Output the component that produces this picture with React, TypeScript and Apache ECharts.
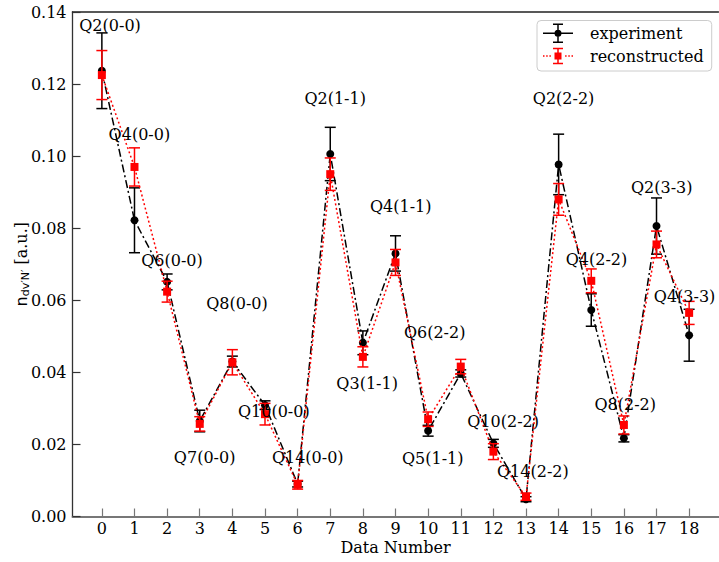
import React, { useEffect, useRef } from "react";
import * as echarts from "echarts";

const dataNumber = [0, 1, 2, 3, 4, 5, 6, 7, 8, 9, 10, 11, 12, 13, 14, 15, 16, 17, 18];
const experiment = [0.1237, 0.0822, 0.0651, 0.0265, 0.043, 0.0309, 0.009, 0.1006, 0.0482, 0.073, 0.0238, 0.0397, 0.0203, 0.0048, 0.0977, 0.0573, 0.0217, 0.0806, 0.0503];
const experimentErr = [0.0105, 0.009, 0.0022, 0.003, 0.0015, 0.0012, 0.0008, 0.0074, 0.0033, 0.0049, 0.0015, 0.001, 0.0011, 0.0007, 0.0084, 0.0045, 0.001, 0.0078, 0.0072];
const reconstructed = [0.1225, 0.097, 0.0624, 0.0257, 0.0428, 0.0284, 0.0088, 0.095, 0.0443, 0.0705, 0.027, 0.0416, 0.018, 0.0055, 0.088, 0.0654, 0.0254, 0.0755, 0.0565];
const reconstructedErr = [0.0068, 0.0053, 0.0029, 0.002, 0.0035, 0.003, 0.0012, 0.0045, 0.0028, 0.0036, 0.002, 0.002, 0.0022, 0.001, 0.0044, 0.0033, 0.0025, 0.0037, 0.0032];

const xTickValues = [0, 1, 2, 3, 4, 5, 6, 7, 8, 9, 10, 11, 12, 13, 14, 15, 16, 17, 18];

const annoLabels = ["Q2(0-0)", "Q4(0-0)", "Q6(0-0)", "Q8(0-0)", "Q10(0-0)", "Q7(0-0)", "Q14(0-0)", "Q2(1-1)", "Q4(1-1)", "Q3(1-1)", "Q6(2-2)", "Q5(1-1)", "Q10(2-2)", "Q14(2-2)", "Q2(2-2)", "Q4(2-2)", "Q2(3-3)", "Q4(3-3)", "Q8(2-2)"];
const annoX = [0.25, 1.15, 2.15, 4.14, 5.27, 3.15, 6.31, 7.15, 9.16, 8.13, 10.2, 10.14, 12.3, 13.21, 14.15, 15.16, 17.16, 17.86, 16.04];
const annoY = [0.1363, 0.106, 0.0711, 0.0592, 0.029, 0.0165, 0.0165, 0.116, 0.086, 0.0368, 0.051, 0.0162, 0.0263, 0.0124, 0.116, 0.0713, 0.0912, 0.061, 0.0312];

const SERIF = '"DejaVu Serif", "Liberation Serif", serif';
const SANS = '"DejaVu Sans", sans-serif';

const expIcon =
  "path://M0 9.25H30V10.75H0Z M14.25 1H15.75V19H14.25Z M10 0.25H20V1.75H10Z M10 18.25H20V19.75H10Z M18.5 10A3.5 3.5 0 1 1 11.5 10A3.5 3.5 0 1 1 18.5 10Z";
const recIcon =
  "path://M0 9.25H1.5V10.75H0Z M3.2 9.25H4.7V10.75H3.2Z M6.4 9.25H7.9V10.75H6.4Z M22.1 9.25H23.6V10.75H22.1Z M25.3 9.25H26.8V10.75H25.3Z M28.5 9.25H30V10.75H28.5Z M14.25 2.5H15.75V17.5H14.25Z M10 1.75H20V3.25H10Z M10 16.75H20V18.25H10Z M11.5 6.5H18.5V13.5H11.5Z M0 0H0.01V0.01H0Z M0 19.99H0.01V20H0Z";

function errorBars(name: string, ys: number[], errs: number[], color: string, z: number) {
  return {
    type: "custom",
    name,
    z,
    silent: true,
    data: dataNumber.map((x, i) => [x, ys[i] - errs[i], ys[i] + errs[i]]),
    encode: { x: 0, y: [1, 2] },
    renderItem: (_params: any, api: any) => {
      const lo = api.coord([api.value(0), api.value(1)]);
      const hi = api.coord([api.value(0), api.value(2)]);
      const hw = 5.5;
      const style = { stroke: color, lineWidth: 1.5, fill: "none" };
      return {
        type: "group",
        children: [
          { type: "line", shape: { x1: lo[0], y1: lo[1], x2: hi[0], y2: hi[1] }, style },
          { type: "line", shape: { x1: lo[0] - hw, y1: lo[1], x2: lo[0] + hw, y2: lo[1] }, style },
          { type: "line", shape: { x1: hi[0] - hw, y1: hi[1], x2: hi[0] + hw, y2: hi[1] }, style },
        ],
      };
    },
  };
}

export default function App() {
  const ref = useRef<HTMLDivElement>(null);
  useEffect(() => {
    if (!ref.current) return;
    const chart = echarts.init(ref.current, null, { renderer: "svg" });
    chart.setOption({
      animation: false,
      backgroundColor: "#ffffff",
      textStyle: { fontFamily: SERIF },
      grid: { left: 72.5, top: 12, right: 0.5, bottom: 45.5, containLabel: false, outerBoundsMode: "none" },
      legend: {
        left: 537,
        top: 20.5,
        orient: "vertical",
        itemWidth: 30,
        itemHeight: 20,
        itemGap: 3,
        padding: [3, 8, 5, 6],
        backgroundColor: "rgba(255,255,255,0.85)",
        borderColor: "#cccccc",
        borderWidth: 1,
        borderRadius: 4,
        selectedMode: false,
        itemStyle: { borderWidth: 0 },
        textStyle: { fontFamily: SERIF, fontSize: 16, color: "#000", rich: { sp: { width: 12 } } },
        formatter: (name: string) => `{sp| }${name}`,
        data: [
          { name: "experiment", icon: expIcon, itemStyle: { color: "#000000" } },
          { name: "reconstructed", icon: recIcon, itemStyle: { color: "#ff0000" } },
        ],
      },
      xAxis: [
        {
          type: "value",
          min: -0.9,
          max: 18.9,
          name: "Data Number",
          nameLocation: "middle",
          nameGap: 23,
          nameMoveOverlap: false,
          nameTextStyle: { fontFamily: SERIF, fontSize: 16, color: "#000" },
          axisLine: { show: true, onZero: false, lineStyle: { color: "#777777", width: 2 } },
          axisTick: { show: true, inside: true, length: 8, customValues: xTickValues, lineStyle: { color: "#777777", width: 1.2 } },
          axisLabel: { customValues: xTickValues, fontFamily: SERIF, fontSize: 16, color: "#000", margin: 4, formatter: (v: number) => String(v) },
          splitLine: { show: false },
        },
        {
          type: "value",
          position: "top",
          min: -0.9,
          max: 18.9,
          axisLine: { show: true, onZero: false, lineStyle: { color: "#222222", width: 1.5 } },
          axisTick: { show: false },
          axisLabel: { show: false },
          splitLine: { show: false },
        },
      ],
      yAxis: {
        type: "value",
        min: 0,
        max: 0.14,
        interval: 0.02,
        name: "{n|n}{s|dv′N′}{t| [a.u.]}",
        nameLocation: "middle",
        nameGap: 42,
        nameMoveOverlap: false,
        nameTextStyle: {
          color: "#000",
          rich: {
            n: { fontFamily: SANS, fontSize: 16, color: "#000" },
            s: { fontFamily: SANS, fontSize: 11, color: "#000", padding: [8, 0, 0, 0] },
            t: { fontFamily: SERIF, fontSize: 16, color: "#000" },
          },
        },
        axisLine: { show: true, onZero: false, lineStyle: { color: "#333333", width: 1.3 } },
        axisTick: { show: true, inside: true, length: 8, lineStyle: { color: "#333333", width: 1.2 } },
        axisLabel: { fontFamily: SERIF, fontSize: 16, color: "#000", margin: 6, formatter: (v: number) => v.toFixed(2) },
        splitLine: { show: false },
      },
      series: [
        {
          type: "line",
          name: "experiment",
          z: 2,
          data: dataNumber.map((x, i) => [x, experiment[i]]),
          symbol: "circle",
          symbolSize: 8,
          showSymbol: true,
          itemStyle: { color: "#000000" },
          lineStyle: { color: "#000000", width: 1.5, type: [8, 3, 2, 3] },
        },
        errorBars("experiment-err", experiment, experimentErr, "#000000", 1),
        errorBars("reconstructed-err", reconstructed, reconstructedErr, "#ff0000", 3),
        {
          type: "line",
          name: "reconstructed",
          z: 4,
          data: dataNumber.map((x, i) => [x, reconstructed[i]]),
          symbol: "rect",
          symbolSize: 8,
          showSymbol: true,
          itemStyle: { color: "#ff0000" },
          lineStyle: { color: "#ff0000", width: 1.5, type: [2, 2.5] },
        },
        {
          type: "scatter",
          name: "labels",
          z: 10,
          silent: true,
          symbol: "circle",
          symbolSize: 1,
          itemStyle: { color: "#ffffff", opacity: 1 },
          label: {
            show: true,
            position: "inside",
            formatter: (p: any) => p.name,
            fontFamily: SERIF,
            fontSize: 16,
            color: "#000000",
            opacity: 1,
            textBorderWidth: 0,
            textBorderColor: "transparent",
          },
          labelLayout: { hideOverlap: false },
          data: annoLabels.map((t, i) => ({ name: t, value: [annoX[i], annoY[i]] })),
        },
      ],
    });
    return () => chart.dispose();
  }, []);
  return <div ref={ref} style={{ position: "absolute", left: 0, top: 0, width: 719, height: 562 }} />;
}
